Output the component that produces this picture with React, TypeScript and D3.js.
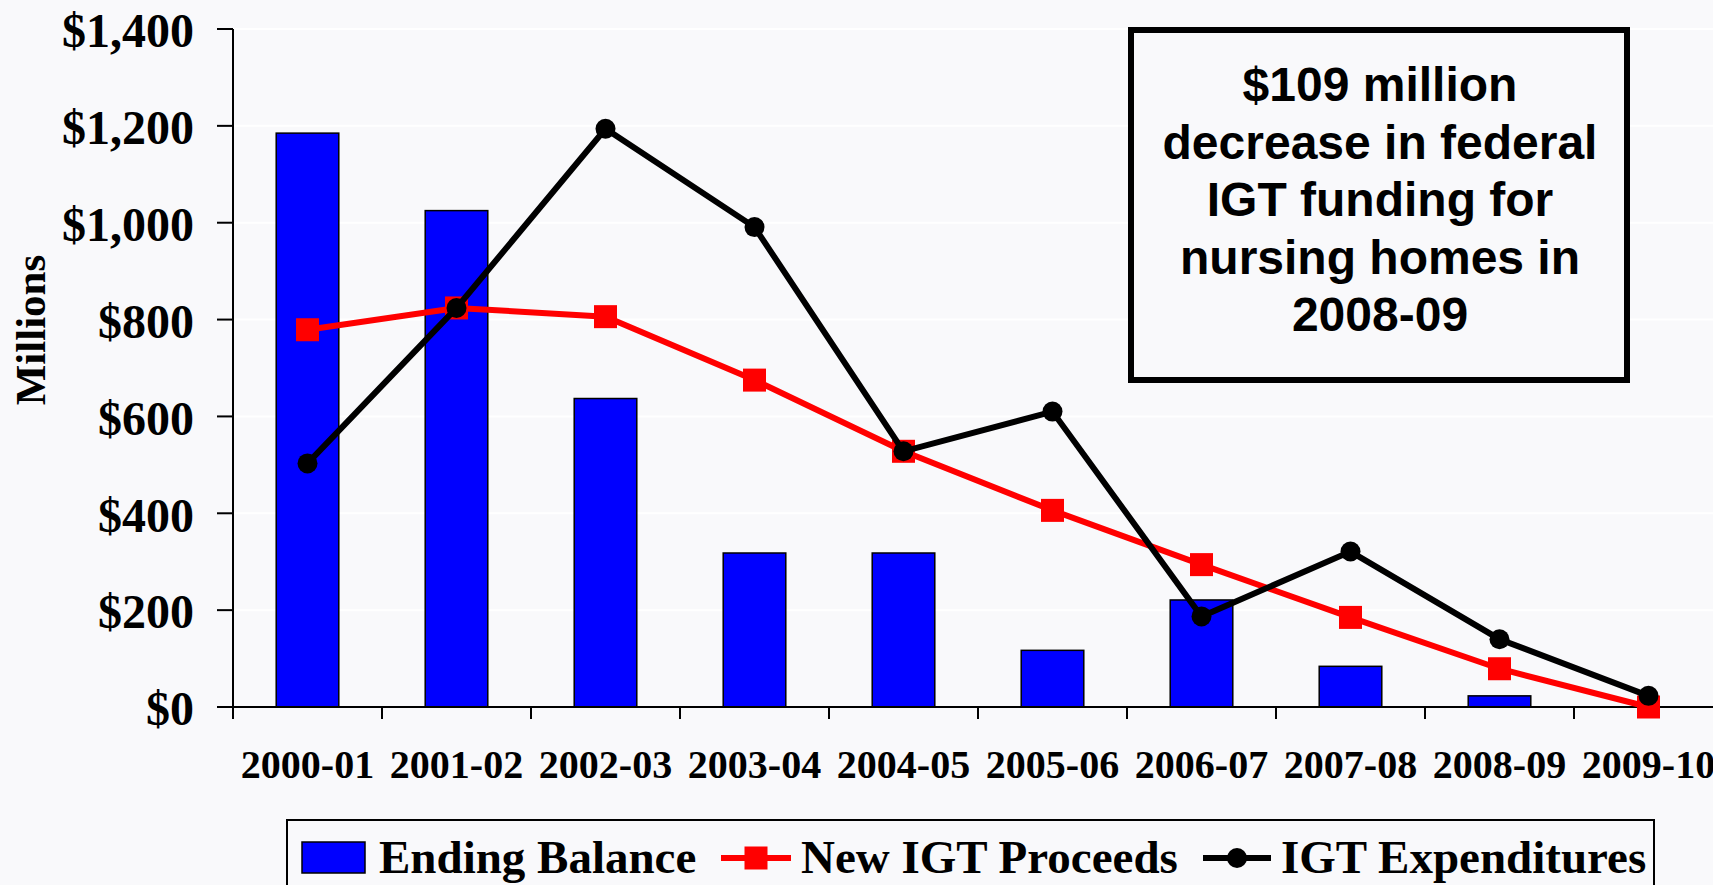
import React, { useEffect, useRef } from 'react';
import * as d3 from 'd3';

const years = ['2000-01', '2001-02', '2002-03', '2003-04', '2004-05', '2005-06', '2006-07', '2007-08', '2008-09', '2009-10'];
const endingBalance = [1185, 1025, 637, 318, 318, 117, 221, 84, 23, 0];
const newIgtProceeds = [779, 824, 806, 675, 528, 406, 294, 185, 79, 0];
const igtExpenditures = [503, 824, 1194, 991, 528, 610, 187, 321, 140, 23];
const yTicks = [0, 200, 400, 600, 800, 1000, 1200, 1400];
const calloutLines = ['$109 million', 'decrease in federal', 'IGT funding for', 'nursing homes in', '2008-09'];
const legendLabels = ['Ending Balance', 'New IGT Proceeds', 'IGT Expenditures'];

const WIDTH = 1713;
const HEIGHT = 885;
const SERIF = '"Liberation Serif", "Times New Roman", Times, serif';
const SANS = '"Liberation Sans", Arial, Helvetica, sans-serif';

const App = () => {
    const svgRef = useRef(null);

    useEffect(() => {
        const svg = d3.select(svgRef.current);
        svg.selectAll('*').remove();

        svg.append('rect').attr('width', WIDTH).attr('height', HEIGHT).attr('fill', '#f9f9fb');

        // plot runs a little past the right edge, like the original slide
        const x = d3.scaleBand().domain(years).range([233, 1723]).padding(0);
        const y = d3.scaleLinear().domain([0, 1400]).range([707, 29]);
        const barW = x.bandwidth() * 0.42;
        const cx = (d) => x(d) + x.bandwidth() / 2;

        // faint gridlines
        svg.append('g')
            .selectAll('line')
            .data(yTicks.slice(1))
            .enter()
            .append('line')
            .attr('x1', 233)
            .attr('x2', WIDTH)
            .attr('y1', (d) => y(d))
            .attr('y2', (d) => y(d))
            .style('stroke', '#ffffff')
            .style('stroke-width', 2);

        // bars
        svg.append('g')
            .selectAll('rect')
            .data(years.filter((d, i) => endingBalance[i] > 0))
            .enter()
            .append('rect')
            .attr('x', (d) => cx(d) - barW / 2)
            .attr('y', (d) => y(endingBalance[years.indexOf(d)]))
            .attr('width', barW)
            .attr('height', (d) => y(0) - y(endingBalance[years.indexOf(d)]))
            .style('fill', '#0000ff')
            .style('stroke', '#000')
            .style('stroke-width', 1.5);

        // y axis
        const yAxis = svg.append('g');
        yAxis.append('line').attr('x1', 233).attr('x2', 233).attr('y1', y(1400)).attr('y2', y(0) + 12)
            .style('stroke', '#000').style('stroke-width', 2);
        yTicks.forEach((t) => {
            yAxis.append('line').attr('x1', 217).attr('x2', 233).attr('y1', y(t)).attr('y2', y(t))
                .style('stroke', '#000').style('stroke-width', 2);
            yAxis.append('text')
                .attr('x', 194)
                .attr('y', y(t))
                .attr('dy', '0.38em')
                .attr('text-anchor', 'end')
                .style('font-family', SERIF)
                .style('font-weight', 'bold')
                .style('font-size', '48px')
                .text(d3.format('$,')(t));
        });

        // x axis
        const xAxis = svg.append('g');
        xAxis.append('line').attr('x1', 233).attr('x2', 1723).attr('y1', y(0)).attr('y2', y(0))
            .style('stroke', '#000').style('stroke-width', 2);
        years.forEach((yr) => {
            const tx = x(yr) + x.bandwidth();
            xAxis.append('line').attr('x1', tx).attr('x2', tx).attr('y1', y(0)).attr('y2', y(0) + 12)
                .style('stroke', '#000').style('stroke-width', 2);
            xAxis.append('text')
                .attr('x', cx(yr))
                .attr('y', 778)
                .attr('text-anchor', 'middle')
                .style('font-family', SERIF)
                .style('font-weight', 'bold')
                .style('font-size', '40px')
                .text(yr);
        });

        svg.append('text')
            .attr('transform', 'translate(45, 330) rotate(-90)')
            .attr('text-anchor', 'middle')
            .style('font-family', SERIF)
            .style('font-weight', 'bold')
            .style('font-size', '43px')
            .text('Millions');

        const line = d3.line().x((d, i) => cx(years[i])).y((d) => y(d));

        // New IGT Proceeds
        svg.append('path')
            .datum(newIgtProceeds)
            .attr('d', line)
            .style('fill', 'none')
            .style('stroke', '#ff0000')
            .style('stroke-width', 6);
        svg.append('g')
            .selectAll('rect')
            .data(newIgtProceeds)
            .enter()
            .append('rect')
            .attr('x', (d, i) => cx(years[i]) - 11.5)
            .attr('y', (d) => y(d) - 11.5)
            .attr('width', 23)
            .attr('height', 23)
            .style('fill', '#ff0000');

        // IGT Expenditures
        svg.append('path')
            .datum(igtExpenditures)
            .attr('d', line)
            .style('fill', 'none')
            .style('stroke', '#000')
            .style('stroke-width', 6);
        svg.append('g')
            .selectAll('circle')
            .data(igtExpenditures)
            .enter()
            .append('circle')
            .attr('cx', (d, i) => cx(years[i]))
            .attr('cy', (d) => y(d))
            .attr('r', 10)
            .style('fill', '#000');

        // callout box
        const callout = svg.append('g');
        callout.append('rect')
            .attr('x', 1131)
            .attr('y', 30)
            .attr('width', 496)
            .attr('height', 350)
            .style('fill', '#f9f9fb')
            .style('stroke', '#000')
            .style('stroke-width', 6);
        calloutLines.forEach((txt, i) => {
            callout.append('text')
                .attr('x', 1380)
                .attr('y', 101 + i * 57.5)
                .attr('text-anchor', 'middle')
                .style('font-family', SANS)
                .style('font-weight', 'bold')
                .style('font-size', '48px')
                .text(txt);
        });

        // legend
        const legend = svg.append('g');
        legend.append('rect')
            .attr('x', 287)
            .attr('y', 820)
            .attr('width', 1367)
            .attr('height', 100)
            .style('fill', '#f9f9fb')
            .style('stroke', '#000')
            .style('stroke-width', 2);
        const ly = 858;
        legend.append('rect').attr('x', 302).attr('y', 842).attr('width', 63).attr('height', 31)
            .style('fill', '#0000ff').style('stroke', '#000').style('stroke-width', 1.5);
        legend.append('line').attr('x1', 721).attr('x2', 791).attr('y1', ly).attr('y2', ly)
            .style('stroke', '#ff0000').style('stroke-width', 6);
        legend.append('rect').attr('x', 756 - 11.5).attr('y', ly - 11.5).attr('width', 23).attr('height', 23)
            .style('fill', '#ff0000');
        legend.append('line').attr('x1', 1203).attr('x2', 1271).attr('y1', ly).attr('y2', ly)
            .style('stroke', '#000').style('stroke-width', 6);
        legend.append('circle').attr('cx', 1237).attr('cy', ly).attr('r', 10).style('fill', '#000');
        [379, 801, 1281].forEach((lx, i) => {
            legend.append('text')
                .attr('x', lx)
                .attr('y', 873)
                .style('font-family', SERIF)
                .style('font-weight', 'bold')
                .style('font-size', '47px')
                .text(legendLabels[i]);
        });
    }, []);

    return (
        <svg
            ref={svgRef}
            width={WIDTH}
            height={HEIGHT}
            style={{ position: 'absolute', left: 0, top: 0, display: 'block' }}
        />
    );
};

export default App;
